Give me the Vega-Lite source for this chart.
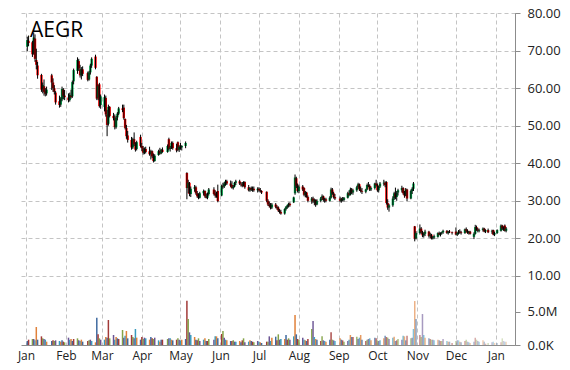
{
  "$schema": "https://vega.github.io/schema/vega-lite/v6.json",
  "width": 494,
  "height": 332,
  "autosize": {"type": "none"},
  "padding": {"left": 21, "top": 13, "right": 55, "bottom": 25},
  "background": "white",
  "title": {"text": "AEGR", "anchor": "start", "frame": "group", "orient": "top", "offset": 0, "dx": 9, "dy": 51, "baseline": "alphabetic", "fontSize": 21, "font": "Open Sans", "fontWeight": "normal", "color": "#000000"},
  "config": {"view": {"stroke": null}},
  "data": {
    "format": {"parse": {"d": "date:'%Y-%m-%d'"}},
    "values": [
      {"d":"2014-01-02","o":71.0,"h":73.7,"l":69.8,"c":72.8,"v":0.6},
      {"d":"2014-01-03","o":72.6,"h":74.0,"l":71.2,"c":72.0,"v":0.8},
      {"d":"2014-01-06","o":72.2,"h":72.6,"l":68.3,"c":69.0,"v":0.9},
      {"d":"2014-01-07","o":69.2,"h":74.8,"l":68.9,"c":73.5,"v":0.9},
      {"d":"2014-01-08","o":73.2,"h":74.3,"l":67.0,"c":67.8,"v":0.7},
      {"d":"2014-01-09","o":67.5,"h":70.5,"l":65.0,"c":66.2,"v":2.7},
      {"d":"2014-01-10","o":66.0,"h":67.0,"l":62.5,"c":63.4,"v":0.8},
      {"d":"2014-01-13","o":63.5,"h":63.8,"l":59.0,"c":59.6,"v":1.3},
      {"d":"2014-01-14","o":59.8,"h":61.5,"l":58.6,"c":60.8,"v":1.0},
      {"d":"2014-01-15","o":60.5,"h":62.3,"l":58.0,"c":59.0,"v":0.9},
      {"d":"2014-01-16","o":59.2,"h":60.0,"l":57.8,"c":58.5,"v":0.8},
      {"d":"2014-01-17","o":58.6,"h":60.4,"l":58.0,"c":59.6,"v":0.5},
      {"d":"2014-01-21","o":63.4,"h":63.8,"l":59.5,"c":61.5,"v":0.6},
      {"d":"2014-01-22","o":61.5,"h":62.6,"l":59.0,"c":60.0,"v":0.7},
      {"d":"2014-01-23","o":60.0,"h":60.8,"l":58.3,"c":59.0,"v":0.6},
      {"d":"2014-01-24","o":58.8,"h":59.2,"l":55.6,"c":56.2,"v":0.7},
      {"d":"2014-01-27","o":56.5,"h":58.0,"l":54.8,"c":55.5,"v":0.6},
      {"d":"2014-01-28","o":55.6,"h":57.6,"l":55.0,"c":57.2,"v":0.5},
      {"d":"2014-01-29","o":57.0,"h":60.4,"l":56.5,"c":59.8,"v":0.7},
      {"d":"2014-01-30","o":59.6,"h":60.0,"l":57.0,"c":58.0,"v":0.5},
      {"d":"2014-01-31","o":58.0,"h":59.5,"l":56.8,"c":57.6,"v":0.4},
      {"d":"2014-02-03","o":57.5,"h":58.6,"l":56.2,"c":56.8,"v":1.1},
      {"d":"2014-02-04","o":56.8,"h":58.8,"l":56.4,"c":58.2,"v":0.8},
      {"d":"2014-02-05","o":58.0,"h":59.6,"l":57.2,"c":57.6,"v":0.9},
      {"d":"2014-02-06","o":57.8,"h":62.0,"l":57.4,"c":61.6,"v":0.6},
      {"d":"2014-02-07","o":61.8,"h":65.2,"l":61.0,"c":64.8,"v":0.9},
      {"d":"2014-02-10","o":64.6,"h":68.2,"l":63.8,"c":67.5,"v":1.0},
      {"d":"2014-02-11","o":67.2,"h":67.8,"l":64.6,"c":65.2,"v":0.7},
      {"d":"2014-02-12","o":65.0,"h":66.2,"l":62.8,"c":63.4,"v":0.6},
      {"d":"2014-02-13","o":63.4,"h":65.6,"l":62.3,"c":65.0,"v":0.8},
      {"d":"2014-02-14","o":65.0,"h":65.8,"l":63.2,"c":63.8,"v":0.5},
      {"d":"2014-02-18","o":64.0,"h":64.4,"l":61.8,"c":62.2,"v":0.6},
      {"d":"2014-02-19","o":62.3,"h":64.6,"l":62.0,"c":64.2,"v":0.7},
      {"d":"2014-02-20","o":64.2,"h":66.5,"l":63.6,"c":66.0,"v":0.8},
      {"d":"2014-02-21","o":66.0,"h":68.2,"l":65.4,"c":67.8,"v":0.6},
      {"d":"2014-02-24","o":68.4,"h":68.9,"l":65.0,"c":65.4,"v":0.4},
      {"d":"2014-02-25","o":63.0,"h":63.2,"l":56.8,"c":57.2,"v":4.1},
      {"d":"2014-02-26","o":57.5,"h":61.0,"l":56.8,"c":60.5,"v":1.6},
      {"d":"2014-02-27","o":61.0,"h":61.4,"l":54.8,"c":55.2,"v":1.0},
      {"d":"2014-02-28","o":55.5,"h":58.3,"l":54.5,"c":57.8,"v":0.8},
      {"d":"2014-03-03","o":55.0,"h":58.3,"l":53.8,"c":57.6,"v":0.8},
      {"d":"2014-03-04","o":57.4,"h":58.0,"l":52.4,"c":53.0,"v":1.2},
      {"d":"2014-03-05","o":53.0,"h":54.2,"l":47.2,"c":50.2,"v":1.1},
      {"d":"2014-03-06","o":50.5,"h":55.6,"l":50.0,"c":55.0,"v":3.75},
      {"d":"2014-03-07","o":55.0,"h":55.2,"l":52.2,"c":52.6,"v":1.0},
      {"d":"2014-03-10","o":52.6,"h":53.4,"l":51.4,"c":52.0,"v":1.5},
      {"d":"2014-03-11","o":52.0,"h":53.0,"l":49.0,"c":49.6,"v":0.8},
      {"d":"2014-03-12","o":49.6,"h":52.6,"l":49.2,"c":52.2,"v":1.2},
      {"d":"2014-03-13","o":52.2,"h":53.6,"l":51.4,"c":53.2,"v":1.0},
      {"d":"2014-03-14","o":53.2,"h":55.0,"l":52.8,"c":54.6,"v":0.9},
      {"d":"2014-03-17","o":54.6,"h":55.6,"l":53.6,"c":54.2,"v":2.25},
      {"d":"2014-03-18","o":54.8,"h":55.6,"l":51.6,"c":52.0,"v":1.1},
      {"d":"2014-03-19","o":51.8,"h":51.9,"l":49.0,"c":49.4,"v":1.4},
      {"d":"2014-03-20","o":49.4,"h":50.2,"l":46.5,"c":47.2,"v":2.1},
      {"d":"2014-03-21","o":47.4,"h":48.6,"l":45.5,"c":46.2,"v":1.0},
      {"d":"2014-03-24","o":46.2,"h":47.0,"l":43.6,"c":44.2,"v":1.5},
      {"d":"2014-03-25","o":44.2,"h":46.8,"l":43.8,"c":46.4,"v":1.2},
      {"d":"2014-03-26","o":46.4,"h":48.2,"l":44.6,"c":45.0,"v":1.0},
      {"d":"2014-03-27","o":45.0,"h":45.6,"l":43.1,"c":43.6,"v":2.4},
      {"d":"2014-03-28","o":43.8,"h":46.0,"l":43.4,"c":45.6,"v":1.1},
      {"d":"2014-03-31","o":47.0,"h":47.6,"l":44.2,"c":44.6,"v":0.8},
      {"d":"2014-04-01","o":44.6,"h":45.4,"l":43.2,"c":44.0,"v":1.2},
      {"d":"2014-04-02","o":44.0,"h":44.6,"l":42.3,"c":42.8,"v":0.9},
      {"d":"2014-04-03","o":42.8,"h":44.2,"l":42.4,"c":43.8,"v":1.1},
      {"d":"2014-04-04","o":43.8,"h":44.4,"l":42.6,"c":43.0,"v":1.0},
      {"d":"2014-04-07","o":43.2,"h":44.4,"l":42.0,"c":42.4,"v":0.8},
      {"d":"2014-04-08","o":42.4,"h":43.6,"l":41.0,"c":43.2,"v":1.2},
      {"d":"2014-04-09","o":43.2,"h":43.4,"l":41.4,"c":41.8,"v":1.0},
      {"d":"2014-04-10","o":41.8,"h":42.6,"l":40.2,"c":40.6,"v":0.9},
      {"d":"2014-04-11","o":40.6,"h":42.4,"l":40.4,"c":42.0,"v":1.1},
      {"d":"2014-04-14","o":42.2,"h":43.6,"l":42.0,"c":43.2,"v":0.7},
      {"d":"2014-04-15","o":43.2,"h":44.1,"l":42.3,"c":42.6,"v":0.5},
      {"d":"2014-04-16","o":42.6,"h":43.8,"l":42.4,"c":43.6,"v":0.8},
      {"d":"2014-04-17","o":43.6,"h":44.2,"l":42.8,"c":43.0,"v":0.8},
      {"d":"2014-04-21","o":43.0,"h":45.0,"l":42.8,"c":44.6,"v":0.9},
      {"d":"2014-04-22","o":46.4,"h":46.8,"l":43.4,"c":43.8,"v":1.0},
      {"d":"2014-04-23","o":43.8,"h":44.6,"l":43.1,"c":44.2,"v":1.0},
      {"d":"2014-04-24","o":44.2,"h":45.8,"l":43.8,"c":45.4,"v":0.8},
      {"d":"2014-04-25","o":45.4,"h":45.8,"l":43.6,"c":44.0,"v":0.7},
      {"d":"2014-04-28","o":44.0,"h":45.2,"l":42.9,"c":43.4,"v":0.8},
      {"d":"2014-04-29","o":45.6,"h":45.8,"l":43.2,"c":43.6,"v":1.0},
      {"d":"2014-04-30","o":43.6,"h":44.8,"l":43.0,"c":44.4,"v":0.8},
      {"d":"2014-05-01","o":44.4,"h":45.4,"l":43.6,"c":44.2,"v":0.7},
      {"d":"2014-05-02","o":44.2,"h":44.8,"l":43.4,"c":44.6,"v":0.8},
      {"d":"2014-05-05","o":44.6,"h":45.8,"l":44.0,"c":45.4,"v":0.9},
      {"d":"2014-05-06","o":37.4,"h":37.6,"l":30.4,"c":33.4,"v":6.65},
      {"d":"2014-05-07","o":33.4,"h":35.6,"l":32.0,"c":34.8,"v":3.9},
      {"d":"2014-05-08","o":34.8,"h":35.0,"l":31.2,"c":31.8,"v":1.9},
      {"d":"2014-05-09","o":31.8,"h":33.8,"l":31.0,"c":33.2,"v":1.5},
      {"d":"2014-05-12","o":33.2,"h":34.2,"l":32.4,"c":33.6,"v":1.2},
      {"d":"2014-05-13","o":33.6,"h":34.0,"l":31.6,"c":32.0,"v":0.8},
      {"d":"2014-05-14","o":32.0,"h":32.6,"l":30.8,"c":31.2,"v":0.7},
      {"d":"2014-05-15","o":31.2,"h":32.0,"l":30.4,"c":30.8,"v":1.0},
      {"d":"2014-05-16","o":30.8,"h":32.4,"l":30.6,"c":32.0,"v":0.6},
      {"d":"2014-05-19","o":32.0,"h":33.0,"l":31.4,"c":32.6,"v":0.8},
      {"d":"2014-05-20","o":32.6,"h":32.8,"l":30.8,"c":31.2,"v":1.0},
      {"d":"2014-05-21","o":31.2,"h":32.0,"l":30.6,"c":30.8,"v":0.6},
      {"d":"2014-05-22","o":30.8,"h":32.2,"l":30.4,"c":31.8,"v":0.6},
      {"d":"2014-05-23","o":31.8,"h":33.4,"l":31.4,"c":33.0,"v":0.9},
      {"d":"2014-05-27","o":33.0,"h":33.6,"l":31.4,"c":31.8,"v":0.8},
      {"d":"2014-05-28","o":32.0,"h":32.8,"l":30.8,"c":31.4,"v":1.3},
      {"d":"2014-05-29","o":31.8,"h":32.4,"l":30.8,"c":31.2,"v":1.3},
      {"d":"2014-05-30","o":32.6,"h":34.3,"l":29.6,"c":29.9,"v":1.0},
      {"d":"2014-06-02","o":31.4,"h":34.3,"l":31.2,"c":34.0,"v":1.65},
      {"d":"2014-06-03","o":34.0,"h":34.8,"l":33.2,"c":33.8,"v":2.1},
      {"d":"2014-06-04","o":33.8,"h":35.0,"l":33.4,"c":34.6,"v":1.1},
      {"d":"2014-06-05","o":34.6,"h":35.6,"l":34.0,"c":35.2,"v":0.8},
      {"d":"2014-06-06","o":35.2,"h":35.6,"l":34.2,"c":34.6,"v":0.7},
      {"d":"2014-06-09","o":34.6,"h":35.4,"l":33.6,"c":34.0,"v":0.6},
      {"d":"2014-06-10","o":34.2,"h":35.2,"l":33.2,"c":33.4,"v":0.6},
      {"d":"2014-06-11","o":33.4,"h":34.2,"l":33.0,"c":33.8,"v":0.7},
      {"d":"2014-06-12","o":33.8,"h":35.0,"l":33.6,"c":34.8,"v":0.5},
      {"d":"2014-06-13","o":34.8,"h":35.6,"l":34.2,"c":35.2,"v":0.5},
      {"d":"2014-06-16","o":35.2,"h":35.6,"l":34.2,"c":34.6,"v":0.6},
      {"d":"2014-06-17","o":34.6,"h":35.0,"l":33.8,"c":34.4,"v":0.4},
      {"d":"2014-06-18","o":34.4,"h":35.0,"l":33.6,"c":34.0,"v":0.7},
      {"d":"2014-06-19","o":34.0,"h":35.2,"l":33.8,"c":35.0,"v":1.0},
      {"d":"2014-06-20","o":35.0,"h":35.2,"l":33.2,"c":33.6,"v":0.4},
      {"d":"2014-06-23","o":33.6,"h":34.2,"l":32.5,"c":32.8,"v":0.5},
      {"d":"2014-06-24","o":32.8,"h":33.6,"l":32.4,"c":33.4,"v":0.7},
      {"d":"2014-06-25","o":33.4,"h":33.8,"l":32.6,"c":33.0,"v":0.6},
      {"d":"2014-06-26","o":33.0,"h":33.8,"l":32.4,"c":33.2,"v":0.5},
      {"d":"2014-06-27","o":33.2,"h":33.8,"l":32.4,"c":32.8,"v":0.4},
      {"d":"2014-06-30","o":32.8,"h":33.6,"l":32.2,"c":33.2,"v":0.6},
      {"d":"2014-07-01","o":33.2,"h":33.6,"l":32.4,"c":32.8,"v":0.5},
      {"d":"2014-07-02","o":32.8,"h":33.4,"l":32.2,"c":32.6,"v":0.4},
      {"d":"2014-07-03","o":32.6,"h":32.8,"l":31.8,"c":32.2,"v":0.3},
      {"d":"2014-07-07","o":32.4,"h":32.5,"l":29.6,"c":30.0,"v":0.5},
      {"d":"2014-07-08","o":30.0,"h":30.4,"l":28.6,"c":29.0,"v":0.5},
      {"d":"2014-07-09","o":29.0,"h":29.8,"l":28.2,"c":28.6,"v":1.3},
      {"d":"2014-07-10","o":28.6,"h":29.4,"l":27.7,"c":28.2,"v":0.6},
      {"d":"2014-07-11","o":28.2,"h":29.4,"l":27.8,"c":29.0,"v":1.1},
      {"d":"2014-07-14","o":29.0,"h":29.4,"l":28.0,"c":28.4,"v":1.25},
      {"d":"2014-07-15","o":28.4,"h":28.8,"l":27.6,"c":28.0,"v":0.7},
      {"d":"2014-07-16","o":28.2,"h":28.5,"l":27.0,"c":27.4,"v":1.6},
      {"d":"2014-07-17","o":27.4,"h":27.8,"l":26.6,"c":27.0,"v":0.8},
      {"d":"2014-07-18","o":27.0,"h":27.6,"l":26.3,"c":26.6,"v":0.9},
      {"d":"2014-07-21","o":26.6,"h":28.0,"l":26.3,"c":27.8,"v":0.9},
      {"d":"2014-07-22","o":27.8,"h":28.6,"l":27.4,"c":28.4,"v":1.5},
      {"d":"2014-07-23","o":28.4,"h":29.0,"l":27.9,"c":28.8,"v":0.8},
      {"d":"2014-07-24","o":28.8,"h":29.5,"l":28.2,"c":29.2,"v":1.0},
      {"d":"2014-07-25","o":29.2,"h":29.6,"l":28.4,"c":28.8,"v":0.8},
      {"d":"2014-07-28","o":29.6,"h":31.1,"l":29.4,"c":30.9,"v":1.3},
      {"d":"2014-07-29","o":32.0,"h":37.0,"l":31.6,"c":36.2,"v":4.5},
      {"d":"2014-07-30","o":36.0,"h":36.4,"l":33.4,"c":34.0,"v":1.6},
      {"d":"2014-07-31","o":34.0,"h":34.6,"l":32.2,"c":32.6,"v":0.9},
      {"d":"2014-08-01","o":32.6,"h":34.3,"l":32.0,"c":33.8,"v":0.8},
      {"d":"2014-08-04","o":33.8,"h":34.2,"l":32.6,"c":33.0,"v":1.1},
      {"d":"2014-08-05","o":33.4,"h":33.6,"l":31.2,"c":31.6,"v":0.8},
      {"d":"2014-08-06","o":31.6,"h":32.6,"l":30.9,"c":32.2,"v":0.7},
      {"d":"2014-08-07","o":32.2,"h":32.4,"l":30.8,"c":31.0,"v":0.6},
      {"d":"2014-08-08","o":31.0,"h":31.4,"l":29.6,"c":30.0,"v":0.9},
      {"d":"2014-08-11","o":30.0,"h":31.0,"l":29.2,"c":30.6,"v":2.4},
      {"d":"2014-08-12","o":30.6,"h":31.1,"l":29.4,"c":29.8,"v":3.6},
      {"d":"2014-08-13","o":29.8,"h":30.6,"l":28.8,"c":30.2,"v":1.2},
      {"d":"2014-08-14","o":30.2,"h":30.4,"l":28.4,"c":29.0,"v":0.9},
      {"d":"2014-08-15","o":29.0,"h":30.4,"l":28.8,"c":30.0,"v":0.8},
      {"d":"2014-08-18","o":30.0,"h":31.0,"l":29.6,"c":30.6,"v":0.6},
      {"d":"2014-08-19","o":30.6,"h":31.7,"l":30.2,"c":31.2,"v":1.3},
      {"d":"2014-08-20","o":31.2,"h":31.4,"l":29.8,"c":30.2,"v":0.7},
      {"d":"2014-08-21","o":30.2,"h":30.8,"l":29.5,"c":30.4,"v":0.6},
      {"d":"2014-08-22","o":30.4,"h":30.8,"l":29.6,"c":30.0,"v":0.5},
      {"d":"2014-08-25","o":30.0,"h":31.2,"l":29.8,"c":30.8,"v":0.8},
      {"d":"2014-08-26","o":30.8,"h":33.5,"l":30.6,"c":33.0,"v":1.9},
      {"d":"2014-08-27","o":33.0,"h":33.4,"l":31.6,"c":32.0,"v":0.8},
      {"d":"2014-08-28","o":32.0,"h":32.4,"l":30.6,"c":31.0,"v":0.7},
      {"d":"2014-08-29","o":31.0,"h":31.8,"l":30.2,"c":30.6,"v":0.6},
      {"d":"2014-09-02","o":30.6,"h":31.1,"l":29.6,"c":30.0,"v":1.0},
      {"d":"2014-09-03","o":30.0,"h":30.8,"l":29.5,"c":30.4,"v":0.8},
      {"d":"2014-09-04","o":30.4,"h":31.0,"l":29.8,"c":30.2,"v":0.7},
      {"d":"2014-09-05","o":30.2,"h":31.0,"l":29.8,"c":30.8,"v":0.5},
      {"d":"2014-09-08","o":30.8,"h":32.4,"l":30.6,"c":32.0,"v":0.6},
      {"d":"2014-09-09","o":32.0,"h":32.8,"l":31.2,"c":31.6,"v":0.8},
      {"d":"2014-09-10","o":31.6,"h":33.5,"l":31.4,"c":33.0,"v":1.5},
      {"d":"2014-09-11","o":33.0,"h":33.4,"l":31.8,"c":32.2,"v":1.2},
      {"d":"2014-09-12","o":32.2,"h":33.2,"l":31.6,"c":32.8,"v":1.2},
      {"d":"2014-09-15","o":32.8,"h":34.0,"l":32.4,"c":33.6,"v":1.25},
      {"d":"2014-09-16","o":33.6,"h":34.8,"l":33.2,"c":34.4,"v":0.9},
      {"d":"2014-09-17","o":34.4,"h":34.6,"l":32.6,"c":33.0,"v":1.1},
      {"d":"2014-09-18","o":33.0,"h":33.8,"l":32.2,"c":32.6,"v":1.5},
      {"d":"2014-09-19","o":32.6,"h":33.4,"l":31.8,"c":32.4,"v":0.8},
      {"d":"2014-09-22","o":32.4,"h":33.2,"l":32.0,"c":33.0,"v":0.6},
      {"d":"2014-09-23","o":33.0,"h":34.6,"l":32.8,"c":34.2,"v":0.8},
      {"d":"2014-09-24","o":34.2,"h":35.0,"l":33.6,"c":34.0,"v":0.9},
      {"d":"2014-09-25","o":34.0,"h":34.4,"l":32.6,"c":33.0,"v":1.0},
      {"d":"2014-09-26","o":33.0,"h":33.8,"l":32.6,"c":33.4,"v":0.7},
      {"d":"2014-09-29","o":33.4,"h":34.8,"l":33.0,"c":34.6,"v":1.1},
      {"d":"2014-09-30","o":34.6,"h":35.6,"l":33.8,"c":34.2,"v":1.0},
      {"d":"2014-10-01","o":34.2,"h":34.6,"l":32.4,"c":32.8,"v":0.7},
      {"d":"2014-10-02","o":32.8,"h":34.0,"l":32.2,"c":33.8,"v":0.6},
      {"d":"2014-10-03","o":33.8,"h":35.0,"l":33.4,"c":34.6,"v":0.7},
      {"d":"2014-10-06","o":34.6,"h":35.6,"l":34.0,"c":34.8,"v":1.0},
      {"d":"2014-10-07","o":34.8,"h":35.2,"l":33.6,"c":34.2,"v":1.4},
      {"d":"2014-10-08","o":35.0,"h":35.2,"l":29.0,"c":29.4,"v":1.2},
      {"d":"2014-10-09","o":29.4,"h":30.4,"l":27.6,"c":28.2,"v":1.1},
      {"d":"2014-10-10","o":28.2,"h":29.2,"l":27.1,"c":28.8,"v":0.9},
      {"d":"2014-10-13","o":28.8,"h":31.2,"l":28.4,"c":30.6,"v":1.1},
      {"d":"2014-10-14","o":30.6,"h":32.4,"l":30.2,"c":32.0,"v":1.25},
      {"d":"2014-10-15","o":32.0,"h":33.5,"l":30.4,"c":31.0,"v":0.6},
      {"d":"2014-10-16","o":31.0,"h":32.6,"l":30.0,"c":32.2,"v":0.7},
      {"d":"2014-10-17","o":32.2,"h":33.2,"l":31.4,"c":32.8,"v":0.9},
      {"d":"2014-10-20","o":32.8,"h":34.0,"l":32.2,"c":33.4,"v":0.8},
      {"d":"2014-10-21","o":33.4,"h":33.6,"l":31.6,"c":32.0,"v":1.4},
      {"d":"2014-10-22","o":32.0,"h":32.6,"l":30.8,"c":31.4,"v":1.3},
      {"d":"2014-10-23","o":31.4,"h":33.4,"l":31.2,"c":33.0,"v":0.7},
      {"d":"2014-10-24","o":33.0,"h":33.2,"l":29.9,"c":30.6,"v":1.4},
      {"d":"2014-10-27","o":30.6,"h":33.0,"l":30.4,"c":32.6,"v":1.0},
      {"d":"2014-10-28","o":32.6,"h":33.6,"l":31.8,"c":33.2,"v":1.1},
      {"d":"2014-10-29","o":33.2,"h":35.0,"l":32.6,"c":34.6,"v":2.4},
      {"d":"2014-10-30","o":23.2,"h":23.3,"l":19.2,"c":19.9,"v":6.6},
      {"d":"2014-10-31","o":20.0,"h":21.9,"l":19.7,"c":21.4,"v":3.9},
      {"d":"2014-11-03","o":21.4,"h":23.7,"l":21.0,"c":22.6,"v":1.5},
      {"d":"2014-11-04","o":22.6,"h":23.0,"l":21.2,"c":21.6,"v":1.2},
      {"d":"2014-11-05","o":21.6,"h":22.0,"l":20.3,"c":20.8,"v":4.65},
      {"d":"2014-11-06","o":20.8,"h":21.6,"l":20.2,"c":21.2,"v":1.5},
      {"d":"2014-11-07","o":21.2,"h":22.3,"l":20.6,"c":21.8,"v":1.1},
      {"d":"2014-11-10","o":21.8,"h":22.0,"l":20.2,"c":20.6,"v":1.0},
      {"d":"2014-11-11","o":20.6,"h":21.5,"l":20.0,"c":21.0,"v":0.9},
      {"d":"2014-11-12","o":21.0,"h":21.2,"l":19.7,"c":20.0,"v":0.8},
      {"d":"2014-11-13","o":20.0,"h":20.6,"l":19.7,"c":20.2,"v":0.8},
      {"d":"2014-11-14","o":20.2,"h":21.0,"l":19.8,"c":20.6,"v":0.7},
      {"d":"2014-11-17","o":20.4,"h":21.6,"l":20.2,"c":21.4,"v":0.8},
      {"d":"2014-11-18","o":21.4,"h":21.8,"l":20.8,"c":21.0,"v":0.7},
      {"d":"2014-11-19","o":21.0,"h":21.6,"l":20.5,"c":21.4,"v":0.6},
      {"d":"2014-11-20","o":21.4,"h":21.8,"l":21.0,"c":21.6,"v":0.6},
      {"d":"2014-11-21","o":21.6,"h":22.3,"l":21.2,"c":22.0,"v":0.9},
      {"d":"2014-11-24","o":22.0,"h":22.2,"l":21.2,"c":21.4,"v":0.6},
      {"d":"2014-11-25","o":21.4,"h":22.0,"l":21.0,"c":21.8,"v":0.5},
      {"d":"2014-11-26","o":21.8,"h":22.2,"l":21.4,"c":21.6,"v":0.5},
      {"d":"2014-11-28","o":21.6,"h":21.8,"l":21.0,"c":21.4,"v":0.3},
      {"d":"2014-12-01","o":21.8,"h":22.9,"l":20.8,"c":21.0,"v":0.6},
      {"d":"2014-12-02","o":21.0,"h":21.6,"l":20.6,"c":21.4,"v":0.7},
      {"d":"2014-12-03","o":21.4,"h":22.2,"l":21.0,"c":21.8,"v":0.7},
      {"d":"2014-12-04","o":21.8,"h":22.4,"l":21.2,"c":21.6,"v":0.5},
      {"d":"2014-12-05","o":21.6,"h":22.0,"l":21.0,"c":21.4,"v":0.4},
      {"d":"2014-12-08","o":21.4,"h":22.6,"l":21.2,"c":22.4,"v":0.6},
      {"d":"2014-12-09","o":22.4,"h":22.9,"l":21.6,"c":22.0,"v":0.8},
      {"d":"2014-12-10","o":22.0,"h":22.4,"l":21.2,"c":21.4,"v":0.5},
      {"d":"2014-12-11","o":21.4,"h":22.0,"l":21.0,"c":21.8,"v":0.4},
      {"d":"2014-12-12","o":21.8,"h":22.0,"l":21.0,"c":21.2,"v":0.3},
      {"d":"2014-12-15","o":20.4,"h":21.6,"l":19.8,"c":21.2,"v":0.5},
      {"d":"2014-12-16","o":21.2,"h":23.6,"l":21.0,"c":23.0,"v":1.1},
      {"d":"2014-12-17","o":23.0,"h":23.4,"l":22.0,"c":22.4,"v":0.8},
      {"d":"2014-12-18","o":22.4,"h":22.8,"l":21.6,"c":22.0,"v":0.6},
      {"d":"2014-12-19","o":22.0,"h":22.6,"l":21.6,"c":22.2,"v":0.5},
      {"d":"2014-12-22","o":22.2,"h":22.9,"l":21.8,"c":22.6,"v":0.7},
      {"d":"2014-12-23","o":22.6,"h":22.8,"l":21.6,"c":21.8,"v":0.5},
      {"d":"2014-12-24","o":21.8,"h":22.4,"l":21.4,"c":22.2,"v":0.2},
      {"d":"2014-12-26","o":22.2,"h":22.6,"l":21.4,"c":21.6,"v":0.3},
      {"d":"2014-12-29","o":21.8,"h":22.3,"l":21.2,"c":22.0,"v":0.4},
      {"d":"2014-12-30","o":22.2,"h":22.3,"l":20.8,"c":21.0,"v":0.5},
      {"d":"2014-12-31","o":21.0,"h":21.8,"l":20.6,"c":21.4,"v":0.3},
      {"d":"2015-01-02","o":21.4,"h":22.4,"l":21.2,"c":22.2,"v":0.3},
      {"d":"2015-01-05","o":22.0,"h":23.7,"l":21.8,"c":23.4,"v":0.4},
      {"d":"2015-01-06","o":23.4,"h":23.6,"l":22.2,"c":22.6,"v":1.0},
      {"d":"2015-01-07","o":22.6,"h":23.2,"l":22.0,"c":22.8,"v":0.6},
      {"d":"2015-01-08","o":23.4,"h":23.7,"l":21.8,"c":22.0,"v":0.5},
      {"d":"2015-01-09","o":22.0,"h":23.0,"l":21.6,"c":22.6,"v":0.5}
    ]
  },
  "layer": [
    {
      "mark": {"type": "bar", "size": 1.5},
      "encoding": {
        "x": {
          "field": "d", "type": "temporal",
          "scale": {"domain": [{"year": 2014, "month": 1, "date": 1}, {"year": 2015, "month": 1, "date": 12}]},
          "axis": {"title": null, "format": "%b", "tickCount": {"interval": "month", "step": 1}, "grid": true, "gridDash": [4, 3], "gridColor": "#c4c4c4", "domainColor": "#8c8c8c", "tickSize": 0, "labelFontSize": 12, "labelFont": "Open Sans", "labelColor": "#222222", "labelPadding": 5, "labelOverlap": false, "labelFlush": false}
        },
        "y": {
          "field": "v", "type": "quantitative",
          "scale": {"domain": [0, 49.85], "nice": false},
          "axis": {"orient": "right", "title": null, "values": [0, 5], "labelExpr": "datum.value == 0 ? '0.0K' : format(datum.value, '.1f') + 'M'", "grid": false, "domainColor": "#8c8c8c", "tickColor": "#8c8c8c", "tickSize": 5, "labelFontSize": 13, "labelFont": "Open Sans", "labelColor": "#222222", "labelPadding": 7}
        },
        "color": {"field": "d", "type": "nominal", "scale": {"range": ["#3F6AA0", "#A23A38", "#84A348", "#6B5494", "#3A9BBE", "#E0813A"]}, "legend": null},
        "opacity": {"field": "d", "type": "temporal", "scale": {"domain": [{"year": 2014, "month": 8, "date": 1}, {"year": 2015, "month": 1, "date": 12}], "range": [1, 0.3], "clamp": true}, "legend": null}
      }
    },
    {
      "layer": [
        {
          "mark": {"type": "bar", "size": 2.4},
          "encoding": {
            "x": {"field": "d", "type": "temporal"},
            "y": {
              "field": "o", "type": "quantitative",
              "scale": {"domain": [-8.4, 80], "nice": false, "zero": false},
              "axis": {"orient": "right", "title": null, "values": [10, 20, 30, 40, 50, 60, 70, 80], "format": ".2f", "grid": true, "gridDash": [4, 3], "gridColor": "#c4c4c4", "domainColor": "#8c8c8c", "tickColor": "#8c8c8c", "tickSize": 5, "labelFontSize": 13, "labelFont": "Open Sans", "labelColor": "#222222", "labelPadding": 7}
            },
            "y2": {"field": "c"},
            "color": {"condition": {"test": "datum.c >= datum.o", "value": "#00B050"}, "value": "#FF0000"}
          }
        },
        {
          "mark": {"type": "rule", "color": "#000000", "strokeWidth": 1},
          "encoding": {
            "x": {"field": "d", "type": "temporal"},
            "y": {"field": "l", "type": "quantitative"},
            "y2": {"field": "h"}
          }
        }
      ]
    }
  ],
  "resolve": {"scale": {"y": "independent"}}
}
